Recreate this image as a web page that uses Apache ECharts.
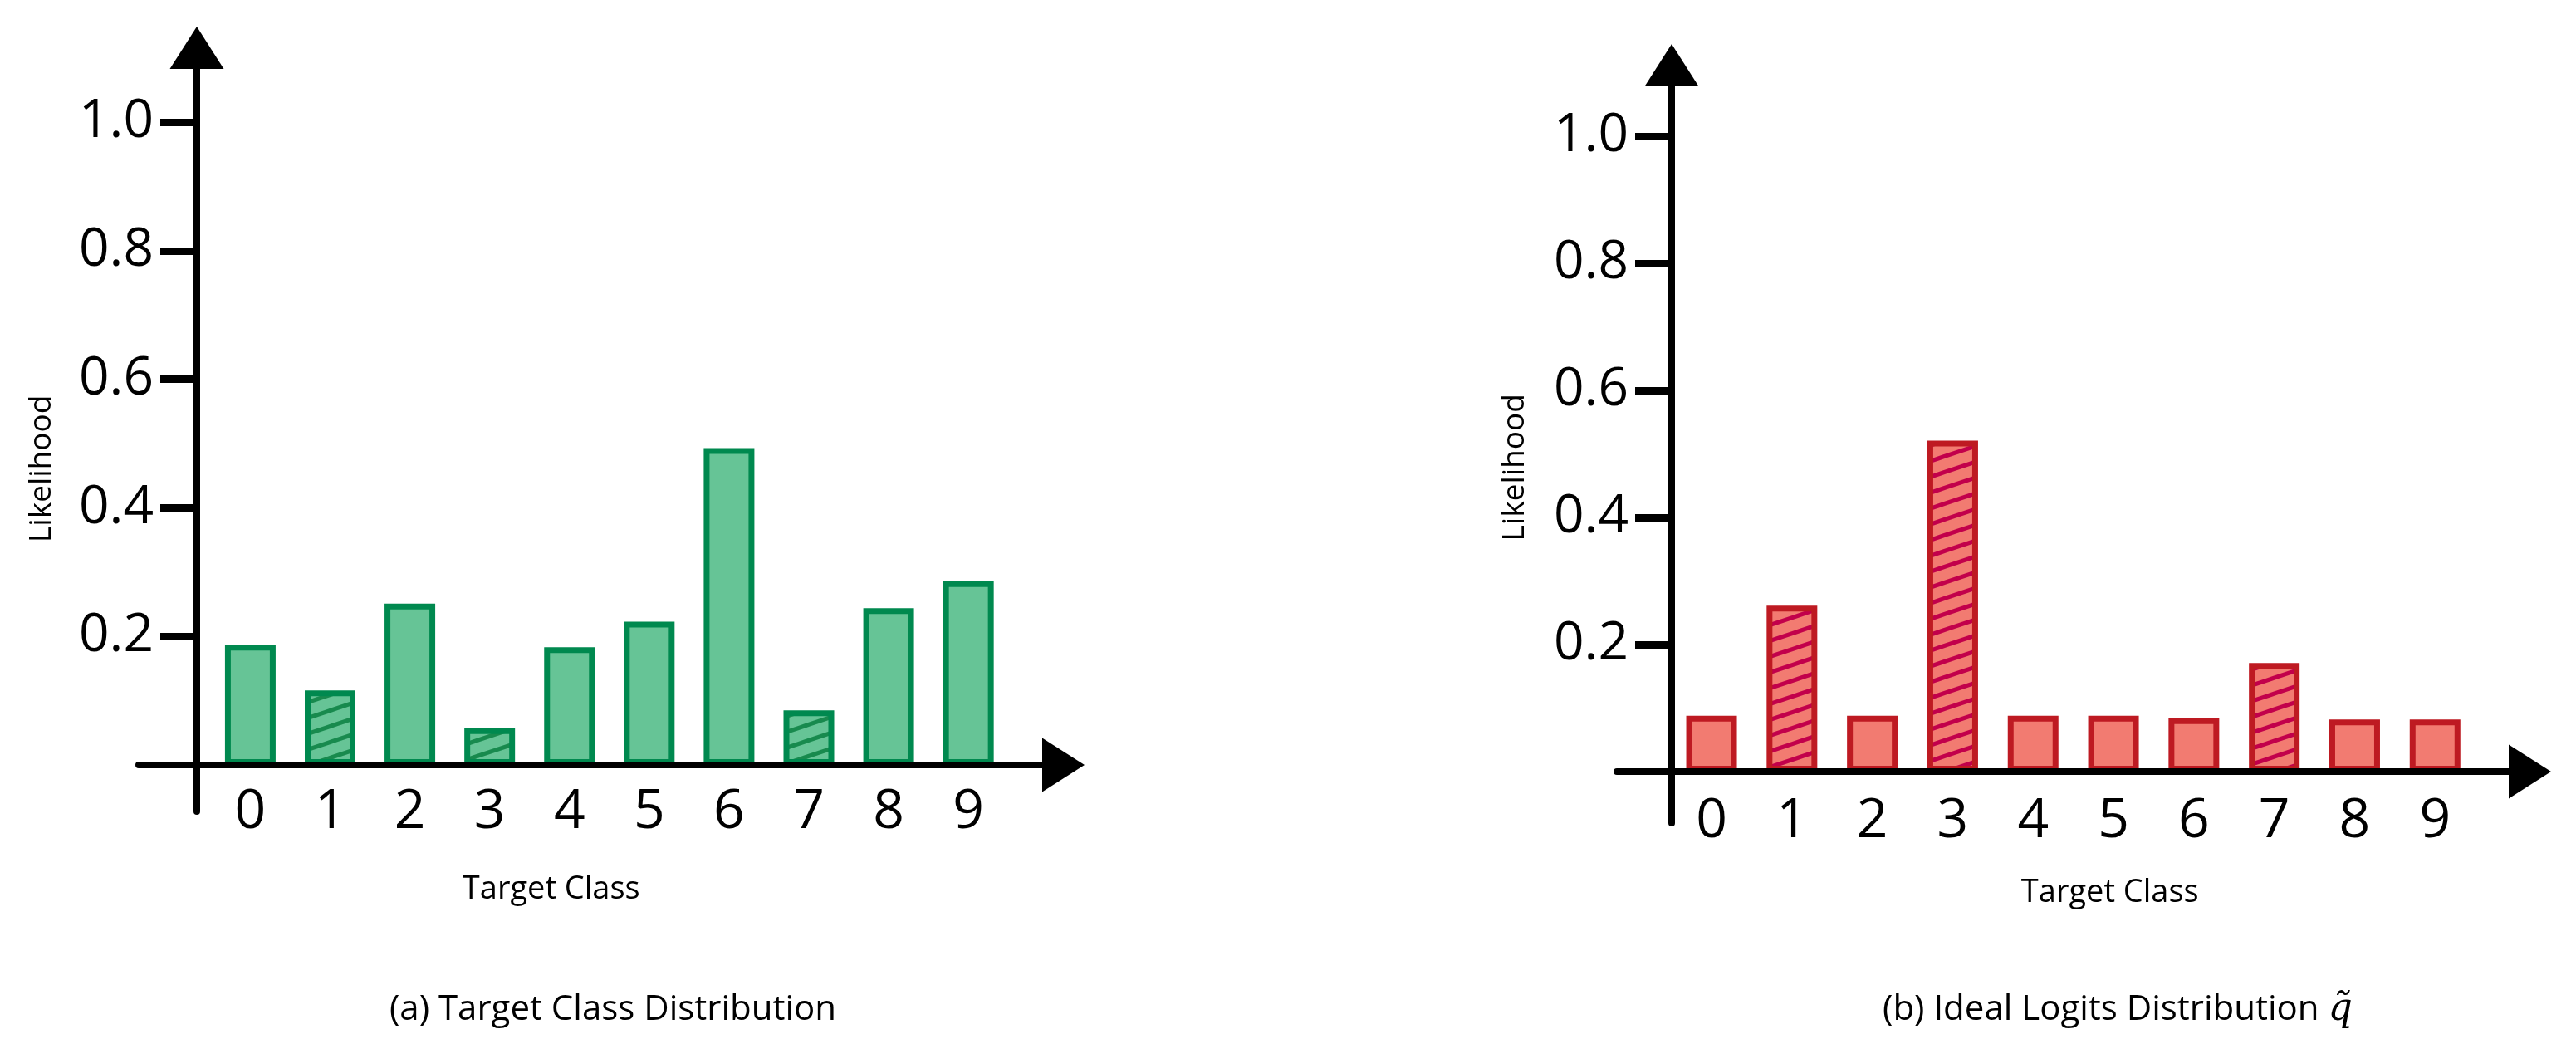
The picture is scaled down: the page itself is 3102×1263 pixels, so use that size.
<!DOCTYPE html>
<html>
<head>
<meta charset="utf-8">
<script src="https://cdn.jsdelivr.net/npm/echarts@6/dist/echarts.min.js"></script>
<style>
  html, body { margin: 0; padding: 0; background: #ffffff; }
  #chart { width: 3102px; height: 1263px; }
</style>
</head>
<body>
<div id="chart"></div>
<script>
// ---- data ----
const classIndex = [0, 1, 2, 3, 4, 5, 6, 7, 8, 9];
const classLabels = ['0', '1', '2', '3', '4', '5', '6', '7', '8', '9'];
const targetDist = [0.187, 0.116, 0.251, 0.057, 0.183, 0.223, 0.493, 0.085, 0.244, 0.286];
const targetHatched = [false, true, false, true, false, false, false, true, false, false];
const idealLogits = [0.088, 0.261, 0.088, 0.521, 0.088, 0.088, 0.084, 0.171, 0.082, 0.082];
const idealHatched = [false, true, false, true, false, false, false, true, false, false];
const yTickValues = [0.2, 0.4, 0.6, 0.8, 1.0];
const yAxisName = 'Likelihood';
const xAxisName = 'Target Class';
const captionA = '(a) Target Class Distribution';
const captionB = '(b) Ideal Logits Distribution ';

// ---- styles ----
const FONT = "'Open Sans', 'Noto Sans', sans-serif";
const green = { fill: '#66C496', border: '#00894F', hatch: '#188A4E' };
const red = { fill: '#F27B71', border: '#BE1A22', hatch: '#C2004B' };

function makeHatch(bg, lineColor) {
  const W = 57, H = 19;
  const c = document.createElement('canvas');
  c.width = W; c.height = H;
  const ctx = c.getContext('2d');
  ctx.fillStyle = bg;
  ctx.fillRect(0, 0, W, H);
  ctx.strokeStyle = lineColor;
  ctx.lineWidth = 5;
  for (let k = -1; k <= 1; k++) {
    ctx.beginPath();
    ctx.moveTo(-2, H + k * H + 2 * H / W);
    ctx.lineTo(W + 2, k * H - 2 * H / W);
    ctx.stroke();
  }
  return c;
}
const greenHatch = makeHatch(green.fill, green.hatch);
const redHatch = makeHatch(red.fill, red.hatch);

function buildData(values, hatched, hatchCanvas) {
  return classIndex.map((x, i) => {
    const item = { value: [x, values[i]] };
    if (hatched[i]) item.itemStyle = { color: { image: hatchCanvas, repeat: 'repeat' } };
    return item;
  });
}

function xAxisCfg(gridIndex, min, max, labelMargin, namePad, nameGap) {
  return {
    type: 'value', gridIndex, min, max, z: 5,
    axisLine: { show: true, onZero: true, symbol: ['none', 'triangle'], symbolSize: [65, 51],
      lineStyle: { color: '#000', width: 8 } },
    axisTick: { show: false },
    splitLine: { show: false },
    axisLabel: { customValues: classIndex, formatter: v => classLabels[classIndex.indexOf(v)],
      fontSize: 66, color: '#000', fontFamily: FONT, margin: labelMargin },
    name: xAxisName, nameLocation: 'middle', nameGap,
    nameTextStyle: { fontSize: 38, color: '#000', fontFamily: FONT, padding: namePad }
  };
}
function yAxisCfg(gridIndex, min, max, offset, namePad, nameGap) {
  return {
    type: 'value', gridIndex, min, max, offset, z: 5,
    axisLine: { show: true, onZero: false, symbol: ['none', 'triangle'], symbolSize: [65, 51],
      lineStyle: { color: '#000', width: 8 } },
    axisTick: { show: true, customValues: yTickValues, length: 44, lineStyle: { color: '#000', width: 9 } },
    splitLine: { show: false },
    axisLabel: { customValues: yTickValues, formatter: v => v.toFixed(1),
      fontSize: 64, color: '#000', fontFamily: FONT, margin: 52 },
    name: yAxisName, nameLocation: 'middle', nameGap,
    nameTextStyle: { fontSize: 37, color: '#000', fontFamily: FONT, padding: namePad }
  };
}

const chart = echarts.init(document.getElementById('chart'), null, { renderer: 'canvas' });
chart.setOption({
  animation: false,
  backgroundColor: '#ffffff',
  grid: [
    { left: 167, top: 57.5, width: 1113.5, height: 919.5 },
    { left: 1947, top: 78.5, width: 1099.5, height: 912.5 }
  ],
  xAxis: [
    xAxisCfg(0, -1.399, 10.19, -32, [0, 120, 0, 0], 75),
    xAxisCfg(1, -1.178, 10.18, -35, [0, 0, 0, 88], 65)
  ],
  yAxis: [
    yAxisCfg(0, -0.0724, 1.1157, -70, [0, 94, 0, 0], 168),
    yAxisCfg(1, -0.081, 1.1118, -66, [0, 56, 0, 0], 170)
  ],
  series: [
    { type: 'bar', xAxisIndex: 0, yAxisIndex: 0, barWidth: 61,
      itemStyle: { color: green.fill, borderColor: green.border, borderWidth: 7 },
      data: buildData(targetDist, targetHatched, greenHatch) },
    { type: 'bar', xAxisIndex: 1, yAxisIndex: 1, barWidth: 61,
      itemStyle: { color: red.fill, borderColor: red.border, borderWidth: 7 },
      data: buildData(idealLogits, idealHatched, redHatch) }
  ],
  graphic: [
    { type: 'text', x: 738, y: 1216,
      style: { text: captionA, fontSize: 42, fontFamily: FONT, fill: '#000', align: 'center', verticalAlign: 'middle' } },
    { type: 'text', x: 2550, y: 1216,
      style: { text: captionB + '{q|q\u0303}', fontSize: 42, fontFamily: FONT, fill: '#000', align: 'center', verticalAlign: 'middle',
        rich: { q: { fontSize: 46, fontFamily: "'DejaVu Serif', 'Liberation Serif', serif", fontStyle: 'italic', fill: '#000' } } } }
  ]
});
</script>
</body>
</html>
